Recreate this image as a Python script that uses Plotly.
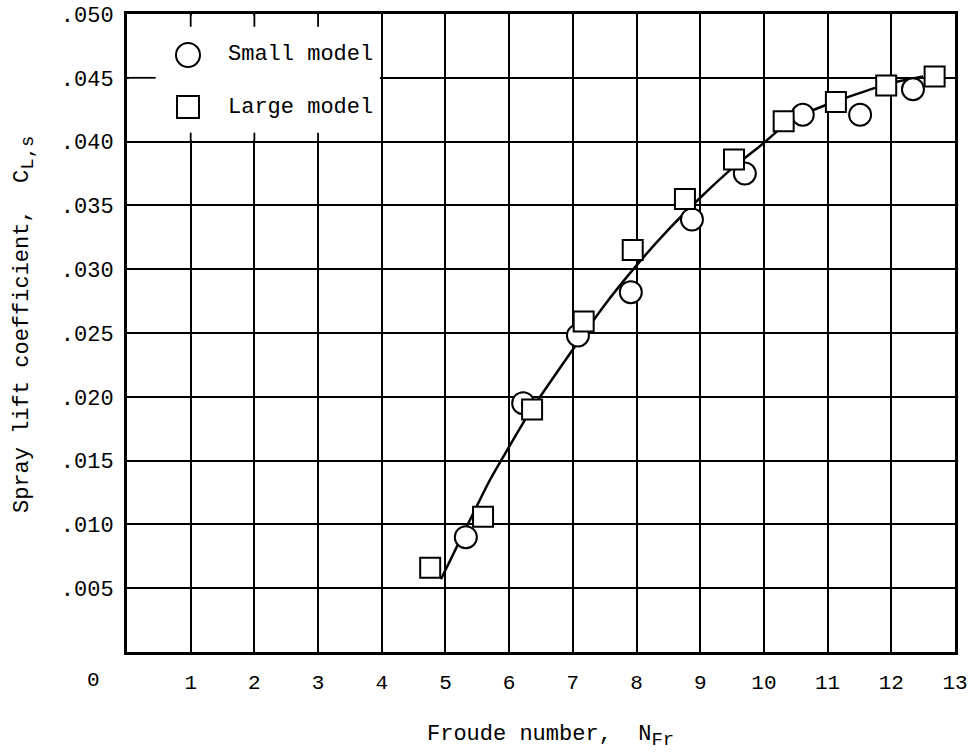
import plotly.graph_objects as go

# ---- data ----
small_x = [5.32, 6.22, 7.08, 7.91, 8.87, 9.70, 10.61, 11.51, 12.34]
small_y = [0.0090, 0.0195, 0.0248, 0.0282, 0.0339, 0.0375, 0.0421, 0.0421, 0.0441]

large_x = [4.76, 5.59, 6.36, 7.17, 7.94, 8.76, 9.53, 10.31, 11.13, 11.92, 12.68]
large_y = [0.0066, 0.0106, 0.0190, 0.0259, 0.0315, 0.0355, 0.0386, 0.0416, 0.0431, 0.0444, 0.0451]

fair_x = [4.93, 5.7, 6.3, 7.0, 7.5, 8.0, 8.5, 9.0, 9.5, 10.0, 10.3, 10.6, 11.1, 11.5, 12.0, 12.5]
fair_y = [0.0057, 0.0135, 0.0186, 0.0237, 0.0272, 0.0303, 0.0331, 0.0356, 0.0379, 0.0399, 0.0412, 0.0421, 0.0431, 0.0438, 0.0446, 0.0451]

x_ticks = list(range(1, 14))
x_ticktext = [str(v) for v in x_ticks]
y_ticks = [0.005, 0.010, 0.015, 0.020, 0.025, 0.030, 0.035, 0.040, 0.045, 0.050]
y_ticktext = [".005", ".010", ".015", ".020", ".025", ".030", ".035", ".040", ".045", ".050"]

FONT = "Liberation Mono, Courier New, monospace"

fig = go.Figure()
fig.add_trace(go.Scatter(x=fair_x, y=fair_y, mode="lines",
                         line=dict(color="black", width=2.5, shape="spline", smoothing=0.4),
                         showlegend=False, hoverinfo="skip"))
fig.add_trace(go.Scatter(x=small_x, y=small_y, mode="markers", name="Small model",
                         marker=dict(symbol="circle", size=22, color="white",
                                     line=dict(color="black", width=2)),
                         showlegend=False))
fig.add_trace(go.Scatter(x=large_x, y=large_y, mode="markers", name="Large model",
                         marker=dict(symbol="square", size=20, color="white",
                                     line=dict(color="black", width=2)),
                         showlegend=False))

# legend area blanking (grid hidden behind legend)
fig.add_shape(type="rect", xref="x", yref="y", x0=0.03, x1=3.97, y0=0.0401, y1=0.0499,
              fillcolor="white", line=dict(width=0), layer="between")
# stubs of grid lines around legend box
fig.add_shape(type="line", xref="x", yref="y", x0=0, x1=0.45, y0=0.045, y1=0.045,
              line=dict(color="black", width=1.8), layer="between")
for xv in [1, 2, 3]:
    fig.add_shape(type="line", xref="x", yref="y", x0=xv, x1=xv, y0=0.0490, y1=0.050,
                  line=dict(color="black", width=1.8), layer="between")
    fig.add_shape(type="line", xref="x", yref="y", x0=xv, x1=xv, y0=0.0400, y1=0.0407,
                  line=dict(color="black", width=1.8), layer="between")

# legend symbols
fig.add_shape(type="circle", xref="paper", yref="paper", xsizemode="pixel", ysizemode="pixel",
              xanchor=(188 - 127) / 828, yanchor=(652 - 55) / 638, x0=-12, x1=12, y0=-12, y1=12,
              line=dict(color="black", width=2), fillcolor="white")
fig.add_shape(type="rect", xref="paper", yref="paper", xsizemode="pixel", ysizemode="pixel",
              xanchor=(188 - 127) / 828, yanchor=(652 - 107) / 638, x0=-11, x1=11, y0=-11, y1=11,
              line=dict(color="black", width=2), fillcolor="white")
fig.add_annotation(text="Small model", xref="paper", yref="paper", x=(226 - 127) / 828,
                   y=(652 - 55) / 638, xanchor="left", yanchor="middle", showarrow=False,
                   font=dict(family=FONT, size=22, color="black"))
fig.add_annotation(text="Large model", xref="paper", yref="paper", x=(226 - 127) / 828,
                   y=(652 - 107) / 638, xanchor="left", yanchor="middle", showarrow=False,
                   font=dict(family=FONT, size=22, color="black"))

# "0" label at the origin corner
fig.add_annotation(text="0", xref="paper", yref="paper", x=(93 - 127) / 828, y=(652 - 680) / 638,
                   xanchor="center", yanchor="middle", showarrow=False,
                   font=dict(family=FONT, size=21, color="black"))
# axis titles
fig.add_annotation(text="Froude number,  N<sub><span style='font-size:19px'>Fr</span></sub>",
                   xref="paper", yref="paper",
                   x=(550 - 127) / 828, y=(652 - 736) / 638, xanchor="center", yanchor="middle",
                   showarrow=False, font=dict(family=FONT, size=22, color="black"))
fig.add_annotation(text="Spray lift coefficient,  C<sub><span style='font-size:19px'>L,s</span></sub>",
                   xref="paper", yref="paper",
                   x=(24 - 127) / 828, y=(652 - 325) / 638, xanchor="center", yanchor="middle",
                   textangle=-90, showarrow=False, font=dict(family=FONT, size=22, color="black"))

fig.update_xaxes(range=[0, 13], tickvals=x_ticks, ticktext=x_ticktext, showgrid=True,
                 gridcolor="black", gridwidth=1.6, zeroline=False, showline=True,
                 linecolor="black", linewidth=3, mirror=True, ticks="", automargin=False,
                 ticklabelstandoff=9, tickfont=dict(family=FONT, size=21, color="black"))
fig.update_yaxes(range=[0, 0.050], tickvals=y_ticks, ticktext=y_ticktext, showgrid=True,
                 gridcolor="black", gridwidth=1.6, zeroline=False, showline=True,
                 linecolor="black", linewidth=3, mirror=True, ticks="", automargin=False,
                 ticklabelstandoff=6, tickfont=dict(family=FONT, size=22, color="black"))

fig.update_layout(width=969, height=754, margin=dict(l=127, r=14, t=14, b=102),
                  plot_bgcolor="white", paper_bgcolor="white", showlegend=False)

fig.write_html("out.html", config={"displayModeBar": False},
               post_script="document.body.style.margin='0';document.body.style.overflow='hidden';")
